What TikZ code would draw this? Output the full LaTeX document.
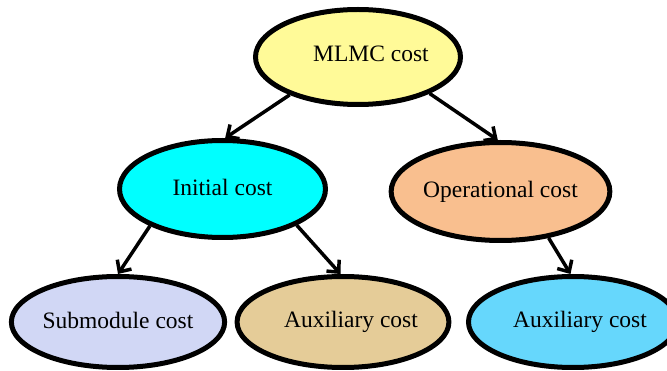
\documentclass[tikz,border=0pt]{standalone}
\usepackage{fontspec}
\setmainfont{Liberation Serif}
\usetikzlibrary{shapes.geometric,arrows.meta}
\definecolor{mlmcfill}{RGB}{255,250,152}
\definecolor{initfill}{RGB}{0,255,255}
\definecolor{opfill}{RGB}{249,191,143}
\definecolor{subfill}{RGB}{209,215,245}
\definecolor{auxtan}{RGB}{229,204,152}
\definecolor{auxblue}{RGB}{102,215,252}
\tikzset{
  costnode/.style={ellipse, draw=black, line width=5pt, inner sep=0pt,
    font=\fontsize{23.5}{26}\selectfont},
  link/.style={line width=3.5pt, -{Straight Barb[length=9pt,width=17pt,line width=3.5pt]}},
}
\begin{document}
\begin{tikzpicture}[x=1pt,y=-1pt]
\useasboundingbox (0,0) rectangle (667,371);
\node[costnode, fill=mlmcfill, minimum width=205pt, minimum height=95pt,
  label={[xshift=13pt,yshift=3pt,font=\fontsize{23.5}{26}\selectfont]center:MLMC cost}] (mlmc) at (358,57) {};
\node[costnode, fill=initfill, minimum width=206pt, minimum height=97pt] (init) at (222.5,189) {\raisebox{3pt}{Initial cost}};
\node[costnode, fill=opfill, minimum width=206pt, minimum height=98pt] (op) at (500.5,191.5) {\raisebox{5pt}{Operational cost}};
\node[costnode, fill=subfill, minimum width=205pt, minimum height=91pt] (sub) at (118,322) {\raisebox{4pt}{Submodule cost}};
\node[costnode, fill=auxtan, minimum width=207pt, minimum height=91pt] (auxa) at (343,322) {\raisebox{4pt}{\hspace*{16pt}Auxiliary cost}};
\node[costnode, fill=auxblue, minimum width=207pt, minimum height=91pt] (auxb) at (573,322) {\raisebox{4pt}{\hspace*{14pt}Auxiliary cost}};
\draw[link] (mlmc.-151) -- (init.87);
\draw[link] (mlmc.-27.5) -- (op.93);
\draw[link] (init.-153) -- (sub.90);
\draw[link] (init.-26) -- (auxa.93.5);
\draw[link] (op.-44) -- (auxb.93);
\end{tikzpicture}
\end{document}
